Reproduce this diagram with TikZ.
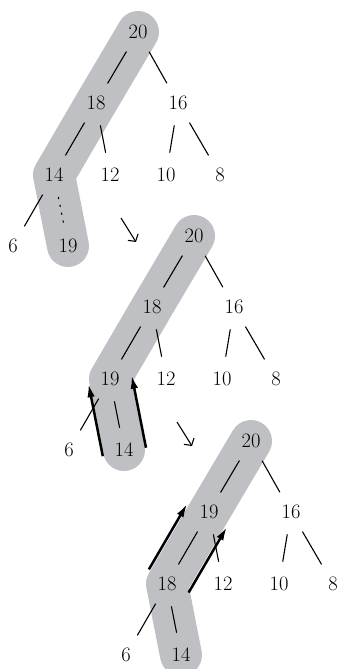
\documentclass[tikz,border=0pt]{standalone}
\usetikzlibrary{arrows.meta,calc,backgrounds}
\definecolor{bandgray}{RGB}{191,192,196}
\tikzset{
  key/.style={circle,minimum size=45pt,inner sep=0pt,font=\fontsize{20.5}{24}\selectfont},
  edge/.style={line width=1.1pt},
  band/.style={draw=bandgray,line width=42pt,line cap=round,line join=round},
  swap/.style={line width=2.5pt,-{Latex[length=14pt,width=7.5pt]}},
  next/.style={line width=1.1pt,-{Straight Barb[length=5pt,width=12pt]}}
}
\begin{document}
\begin{tikzpicture}[x=1pt,y=1pt]
    \useasboundingbox (0,0) rectangle (339,-669);

    % heap before sifting
    \begin{scope}[xshift=138pt,yshift=-32pt]
        \draw (0,0) node[key] (a20) {20};
        \draw (-42,-71) node[key] (a18) {18};
        \draw (40,-71) node[key] (a16) {16};
        \draw (-84,-143) node[key] (a14) {14};
        \draw (-28,-143) node[key] (a12) {12};
        \draw (28,-143) node[key] (a10) {10};
        \draw (82,-143) node[key] (a8) {8};
        \draw (-125,-214) node[key] (a6) {6};
        \draw (-70,-214) node[key] (a19) {19};
        \coordinate (anext) at (-17,-186);
        \coordinate (anextend) at (-2,-210);
        \draw[edge] (a20) -- (a18);
        \draw[edge] (a20) -- (a16);
        \draw[edge] (a18) -- (a14);
        \draw[edge] (a18) -- (a12);
        \draw[edge] (a16) -- (a10);
        \draw[edge] (a16) -- (a8);
        \draw[edge] (a14) -- (a6);
        \draw[edge,line cap=round,dash pattern=on 1.5pt off 6.5pt] (a14) -- (a19);
        \draw[next] (anext) -- (anextend);
    \end{scope}

    % after first swap
    \begin{scope}[xshift=194pt,yshift=-236pt]
        \draw (0,0) node[key] (b20) {20};
        \draw (-42,-71) node[key] (b18) {18};
        \draw (40,-71) node[key] (b16) {16};
        \draw (-84,-143) node[key] (b19) {19};
        \draw (-28,-143) node[key] (b12) {12};
        \draw (28,-143) node[key] (b10) {10};
        \draw (82,-143) node[key] (b8) {8};
        \draw (-125,-214) node[key] (b6) {6};
        \draw (-70,-214) node[key] (b14) {14};
        \coordinate (bnext) at (-17,-186);
        \coordinate (bnextend) at (-2,-210);
        \draw[edge] (b20) -- (b18);
        \draw[edge] (b20) -- (b16);
        \draw[edge] (b18) -- (b19);
        \draw[edge] (b18) -- (b12);
        \draw[edge] (b16) -- (b10);
        \draw[edge] (b16) -- (b8);
        \draw[edge] (b19) -- (b6);
        \draw[edge] (b19) -- (b14);
        \draw[swap,shorten <=-2pt] ($(b14.center)!22pt!90:(b19.center)$) -- ($(b19.center)!22pt!-90:(b14.center)$);
        \draw[swap,shorten <=-2pt] ($(b14.center)!22pt!-90:(b19.center)$) -- ($(b19.center)!22pt!90:(b14.center)$);
        \draw[next] (bnext) -- (bnextend);
    \end{scope}

    % after second swap
    \begin{scope}[xshift=251pt,yshift=-441pt]
        \draw (0,0) node[key] (c20) {20};
        \draw (-42,-71) node[key] (c19) {19};
        \draw (40,-71) node[key] (c16) {16};
        \draw (-84,-143) node[key] (c18) {18};
        \draw (-28,-143) node[key] (c12) {12};
        \draw (28,-143) node[key] (c10) {10};
        \draw (82,-143) node[key] (c8) {8};
        \draw (-125,-214) node[key] (c6) {6};
        \draw (-70,-214) node[key] (c14) {14};
        \draw[edge] (c20) -- (c19);
        \draw[edge] (c20) -- (c16);
        \draw[edge] (c19) -- (c18);
        \draw[edge] (c19) -- (c12);
        \draw[edge] (c16) -- (c10);
        \draw[edge] (c16) -- (c8);
        \draw[edge] (c18) -- (c6);
        \draw[edge] (c18) -- (c14);
        \draw[swap,shorten <=3.5pt,shorten >=3.5pt] ($(c18.center)!23pt!-90:(c19.center)$) -- ($(c19.center)!23pt!90:(c18.center)$);
        \draw[swap,shorten <=3.5pt,shorten >=3.5pt] ($(c18.center)!23pt!90:(c19.center)$) -- ($(c19.center)!23pt!-90:(c18.center)$);
    \end{scope}

    % the sifting paths
    \begin{pgfonlayer}{background}
        \draw[band] (a20.center) -- (a18.center) -- (a14.center) -- (a19.center);
        \draw[band] (b20.center) -- (b18.center) -- (b19.center) -- (b14.center);
        \draw[band] (c20.center) -- (c19.center) -- (c18.center) -- (c14.center);
    \end{pgfonlayer}

\end{tikzpicture}
\end{document}
